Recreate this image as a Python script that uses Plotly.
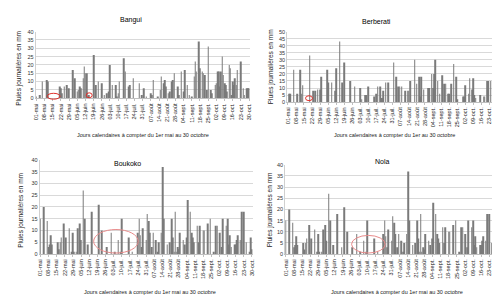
import plotly.graph_objects as go

# ---- categories: 183 days, 1 May -> 30 Oct ----
month_names = ["mai", "juin", "juil.", "août", "sept.", "oct."]
month_days = [31, 30, 31, 31, 30, 30]
days = [f"{d:02d}-{m}" for m, n in zip(month_names, month_days) for d in range(1, n + 1)]
tick_labels = ["01-mai", "08-mai", "15-mai", "22-mai", "29-mai", "05-juin", "12-juin",
               "19-juin", "26-juin", "03-juil.", "10-juil.", "17-juil.", "24-juil.",
               "31-juil.", "07-août", "14-août", "21-août", "28-août", "04-sept.",
               "11-sept.", "18-sept.", "25-sept.", "02-oct.", "09-oct.", "16-oct.",
               "23-oct.", "30-oct."]

# ---- daily rainfall (mm), one row per week ----
bangui = [
    0.5, 0, 0, 2, 0, 10, 0,
    0, 0, 11, 10, 0, 0, 0,
    0, 0, 0, 0, 0, 0, 7,
    6, 3, 0, 7, 0, 8, 0,
    6, 0, 0, 17, 0, 12, 0,
    4, 5, 7, 6, 0, 12, 19,
    15, 15, 0, 2, 0, 0, 0,
    26, 0, 8, 0, 10, 0, 0,
    9, 0, 2, 0, 3, 0, 4,
    20, 0, 8, 0, 0, 8, 1,
    3, 10, 0, 0, 0, 24, 16,
    0, 0, 7, 8, 0, 0, 12,
    0, 0, 0, 0, 9, 0, 2,
    0, 6, 0, 1, 0, 0, 0,
    3, 2, 11, 0, 0, 0, 1,
    0, 5, 13, 0, 9, 11, 7,
    0, 3, 4, 0, 10, 11, 15,
    0, 0, 7, 2, 0, 16, 0,
    4, 17, 0, 8, 0, 2, 0,
    1, 0, 13, 22, 16, 0, 34,
    18, 0, 16, 15, 14, 0, 5,
    31, 0, 5, 3, 0, 0, 8,
    9, 16, 16, 7, 16, 25, 14,
    9, 8, 4, 0, 20, 18, 2,
    10, 8, 12, 8, 17, 0, 0,
    22, 0, 6, 2, 0, 6, 6,
    6,
]
berberati = [
    0, 6, 6, 0, 0, 23, 0,
    0, 6, 0, 0, 23, 6, 12,
    0, 0, 0, 0, 0, 33, 0,
    0, 8, 0, 8, 0, 9, 0,
    9, 18, 0, 0, 0, 0, 23,
    14, 0, 0, 14, 0, 0, 8,
    24, 0, 0, 43, 0, 14, 0,
    28, 0, 0, 0, 0, 15, 0,
    0, 0, 11, 0, 0, 0, 0,
    10, 2, 0, 0, 5, 5, 0,
    11, 0, 0, 0, 0, 4, 0,
    6, 11, 0, 11, 3, 3, 8,
    0, 14, 0, 14, 0, 0, 0,
    0, 28, 0, 18, 0, 11, 11,
    0, 11, 0, 0, 8, 0, 8,
    8, 15, 0, 0, 0, 30, 0,
    13, 0, 18, 4, 18, 0, 9,
    0, 0, 0, 10, 10, 0, 20,
    10, 20, 30, 0, 15, 0, 6,
    0, 19, 0, 13, 13, 0, 6,
    6, 0, 13, 0, 27, 0, 18,
    2, 0, 0, 0, 0, 4, 4,
    12, 0, 0, 6, 17, 0, 9,
    17, 5, 3, 0, 0, 0, 5,
    0, 0, 4, 4, 0, 15, 15,
    0, 15, 0, 13, 0, 25, 25,
    38,
]
boukoko = [
    15, 0, 0, 20, 0, 0, 14,
    3, 4, 8, 4, 0, 0, 0,
    0, 5, 2, 5, 7, 0, 13,
    0, 7, 0, 0, 11, 0, 1,
    9, 1, 0, 1, 11, 0, 13,
    6, 0, 27, 15, 0, 0, 4,
    0, 0, 18, 0, 0, 0, 0,
    0, 21, 0, 0, 10, 0, 0,
    0, 3, 0, 0, 0, 9, 0,
    0, 1, 0, 0, 6, 0, 1,
    15, 0, 0, 0, 0, 0, 7,
    0, 0, 1, 0, 0, 0, 0,
    9, 15, 8, 3, 11, 0, 0,
    6, 17, 14, 9, 0, 3, 9,
    0, 6, 0, 1, 5, 0, 9,
    37, 15, 0, 0, 4, 0, 5,
    0, 15, 7, 1, 18, 1, 3,
    2, 9, 0, 0, 6, 4, 0,
    7, 23, 0, 18, 9, 7, 5,
    0, 0, 12, 5, 12, 0, 0,
    10, 10, 0, 0, 13, 0, 15,
    0, 0, 1, 0, 12, 12, 0,
    9, 0, 3, 15, 0, 0, 12,
    15, 4, 8, 3, 0, 0, 4,
    4, 6, 8, 0, 6, 18, 0,
    18, 0, 5, 0, 0, 1, 7,
    2,
]
nola = [
    15, 0, 0, 20, 0, 0, 14,
    3, 4, 8, 4, 0, 0, 0,
    0, 5, 2, 5, 7, 0, 13,
    0, 7, 0, 0, 11, 0, 1,
    9, 1, 0, 1, 11, 0, 13,
    6, 0, 27, 15, 0, 0, 4,
    0, 0, 18, 0, 0, 0, 3,
    0, 21, 0, 0, 10, 0, 0,
    0, 3, 0, 0, 0, 9, 0,
    0, 1, 0, 0, 6, 0, 1,
    15, 0, 0, 0, 0, 0, 7,
    0, 0, 1, 0, 0, 0, 0,
    9, 15, 8, 3, 11, 0, 0,
    6, 17, 14, 9, 0, 3, 9,
    0, 6, 0, 1, 5, 0, 9,
    37, 15, 0, 0, 4, 0, 5,
    0, 15, 7, 1, 18, 1, 3,
    2, 9, 0, 0, 6, 4, 0,
    7, 23, 0, 18, 9, 7, 5,
    0, 0, 12, 5, 12, 0, 0,
    10, 10, 0, 0, 13, 0, 15,
    0, 0, 1, 0, 12, 12, 0,
    9, 0, 3, 15, 0, 0, 12,
    15, 4, 8, 3, 0, 0, 4,
    4, 6, 8, 0, 6, 18, 0,
    18, 0, 5, 0, 1, 7, 38,
    17,
]

stations = ["Bangui", "Berberati", "Boukoko", "Nola"]
series = [bangui, berberati, boukoko, nola]
ymax = [40, 50, 40, 40]
xtitles = ["Jours calendaires à compter du 1er mai au 30 octobre",
           "Jours calendaires à compter du 1er au 30 octobre",
           "Jours calendaires à compter du 1er mai au 30 octobre",
           "Jours calendaires à compter du 1er mai au 30 octobre"]
ytitle = "Pluies journalières en mm"

W, H = 500, 299
FONT = "Liberation Sans Narrow, Liberation Sans, Arial, sans-serif"
# plot boxes in pixels: left, right, top, bottom
boxes = [(25, 241, 21, 89), (279, 492, 21, 93), (29, 244, 152, 248), (277, 492, 157, 248)]
title_pos = [(121, 9), (369, 11), (118, 156), (375, 154)]
xtitle_pos = [(133, 127), (387, 127), (140, 287), (390, 287)]
ytitle_pos = [(8, 58), (262, 57), (10, 203), (262, 203)]

fig = go.Figure()
annotations = []
for i, (name, vals) in enumerate(zip(stations, series)):
    ax = "" if i == 0 else str(i + 1)
    fig.add_trace(go.Bar(x=days, y=vals, name=name, marker_color="#7a7a7a",
                         marker_line_width=0, xaxis="x" + ax, yaxis="y" + ax,
                         showlegend=False))
    l, r, t, b = boxes[i]
    fig.update_layout(**{
        "xaxis" + ax: dict(domain=[l / W, r / W], anchor="y" + ax, type="category",
                           categoryorder="array", categoryarray=days,
                           tickvals=tick_labels, ticktext=tick_labels, tickangle=-90,
                           tickfont=dict(size=5.5, color="#222", family=FONT),
                           showgrid=False, showline=True, linecolor="#bfbfbf",
                           linewidth=1, ticks="outside", ticklen=2, tickcolor="#bfbfbf",
                           range=[-0.5, len(days) - 0.5], fixedrange=True),
        "yaxis" + ax: dict(domain=[1 - b / H, 1 - t / H], anchor="x" + ax,
                           range=[0, ymax[i]], dtick=5, showgrid=True,
                           gridcolor="#d9d9d9", gridwidth=1, showline=True,
                           linecolor="#d0d0d0", zeroline=False,
                           tickfont=dict(size=5.5, color="#333", family=FONT),
                           ticks="", fixedrange=True),
    })
    tx, ty = title_pos[i]
    annotations.append(dict(text=name, x=tx / W, y=1 - ty / H, xref="paper", yref="paper",
                            showarrow=False, xanchor="center", yanchor="middle",
                            font=dict(size=7, color="#000", family=FONT)))
    xx, xy = xtitle_pos[i]
    annotations.append(dict(text=xtitles[i], x=xx / W, y=1 - xy / H, xref="paper", yref="paper",
                            showarrow=False, xanchor="center", yanchor="middle",
                            font=dict(size=5.5, color="#222", family=FONT)))
    yx, yy = ytitle_pos[i]
    annotations.append(dict(text=ytitle, x=yx / W, y=1 - yy / H, xref="paper", yref="paper",
                            showarrow=False, xanchor="center", yanchor="middle", textangle=-90,
                            font=dict(size=6.5, color="#222", family=FONT)))

# red ellipses marking dry spells (pixel boxes: x0, x1, y0, y1)
ellipses = [((36.5, 49.5, 84, 90), "#e0302a"), ((76, 82, 83.5, 88.5), "#e0302a"),
            ((297.5, 304.5, 86.5, 91.5), "#e0302a"),
            ((83.5, 128.5, 223, 247), "#e88a8a"), ((344, 378, 229, 247), "#e88a8a")]
shapes = []
for (x0, x1, y0, y1), col in ellipses:
    shapes.append(dict(type="circle", xref="paper", yref="paper",
                       x0=x0 / W, x1=x1 / W, y0=1 - y1 / H, y1=1 - y0 / H,
                       line=dict(color=col, width=1)))

fig.update_layout(width=W, height=H, margin=dict(l=0, r=0, t=0, b=0),
                  paper_bgcolor="white", plot_bgcolor="white", bargap=0.45,
                  annotations=annotations, shapes=shapes,
                  font=dict(family=FONT))
fig.write_html("out.html")
